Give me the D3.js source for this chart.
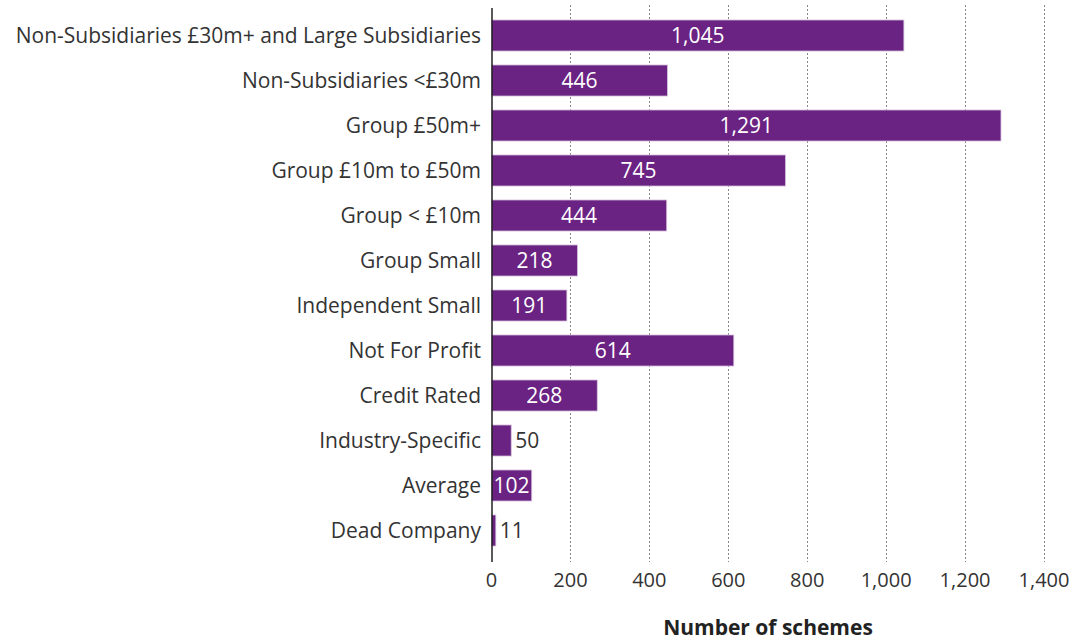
<!DOCTYPE html>
<html><head><meta charset="utf-8">
<script src="https://cdn.jsdelivr.net/npm/d3@7"></script>
<style>body{margin:0;background:#fff;} text{font-family:"Open Sans",sans-serif;}</style>
</head><body>
<svg id="c" width="1087" height="641"></svg>
<script>
const categories = ["Non-Subsidiaries £30m+ and Large Subsidiaries","Non-Subsidiaries <£30m","Group £50m+","Group £10m to £50m","Group < £10m","Group Small","Independent Small","Not For Profit","Credit Rated","Industry-Specific","Average","Dead Company"];
const values = [1045,446,1291,745,444,218,191,614,268,50,102,11];
const ticks = [0,200,400,600,800,1000,1200,1400];
const axisTitle = "Number of schemes";

const svg = d3.select("#c");
const x = d3.scaleLinear().domain([0,1400]).range([491.5,1044]);
const y = d3.scaleBand().domain(categories).range([13,553]).paddingInner(0.31).paddingOuter(0.155);
const fmt = d3.format(",");
const textCol = "#333";

svg.append("g").selectAll("line").data(ticks.slice(1)).join("line")
  .attr("x1",d=>Math.round(x(d))+0.5).attr("x2",d=>Math.round(x(d))+0.5)
  .attr("y1",5).attr("y2",562)
  .attr("stroke","#888").attr("stroke-width",1).attr("stroke-dasharray","2,2");

svg.append("g").selectAll("rect").data(values).join("rect")
  .attr("x",x(0)).attr("y",(d,i)=>y(categories[i]))
  .attr("width",d=>x(d)-x(0)).attr("height",y.bandwidth())
  .attr("fill","#6a2382").attr("stroke","#d9c6e0").attr("stroke-width",0.8);

svg.append("line").attr("x1",492).attr("x2",492).attr("y1",8).attr("y2",562)
  .attr("stroke","#222").attr("stroke-width",1.5);

svg.append("g").selectAll("text").data(categories).join("text")
  .attr("x",481).attr("y",d=>y(d)+y.bandwidth()/2).attr("dy","0.35em")
  .attr("text-anchor","end").attr("font-size",21).attr("fill",textCol).text(d=>d);

svg.append("g").selectAll("text").data(values).join("text")
  .each(function(d,i){
    const t = d3.select(this);
    const w = x(d)-x(0);
    const inside = w > 38;
    t.attr("y",y(categories[i])+y.bandwidth()/2).attr("dy","0.35em")
     .attr("font-size",21)
     .attr("x", inside ? x(0)+w/2 : x(d)+4)
     .attr("text-anchor", inside ? "middle" : "start")
     .attr("fill", inside ? "#fff" : textCol)
     .text(fmt(d));
  });

svg.append("g").selectAll("text").data(ticks).join("text")
  .attr("x",d=>x(d)).attr("y",580).attr("dy","0.35em").attr("text-anchor","middle")
  .attr("font-size",20).attr("fill",textCol).text(d=>fmt(d));

svg.append("text").attr("x",768).attr("y",628).attr("dy","0.35em").attr("text-anchor","middle")
  .attr("font-size",21).attr("font-weight","bold").attr("fill","#222").text(axisTitle);
</script>
</body></html>
